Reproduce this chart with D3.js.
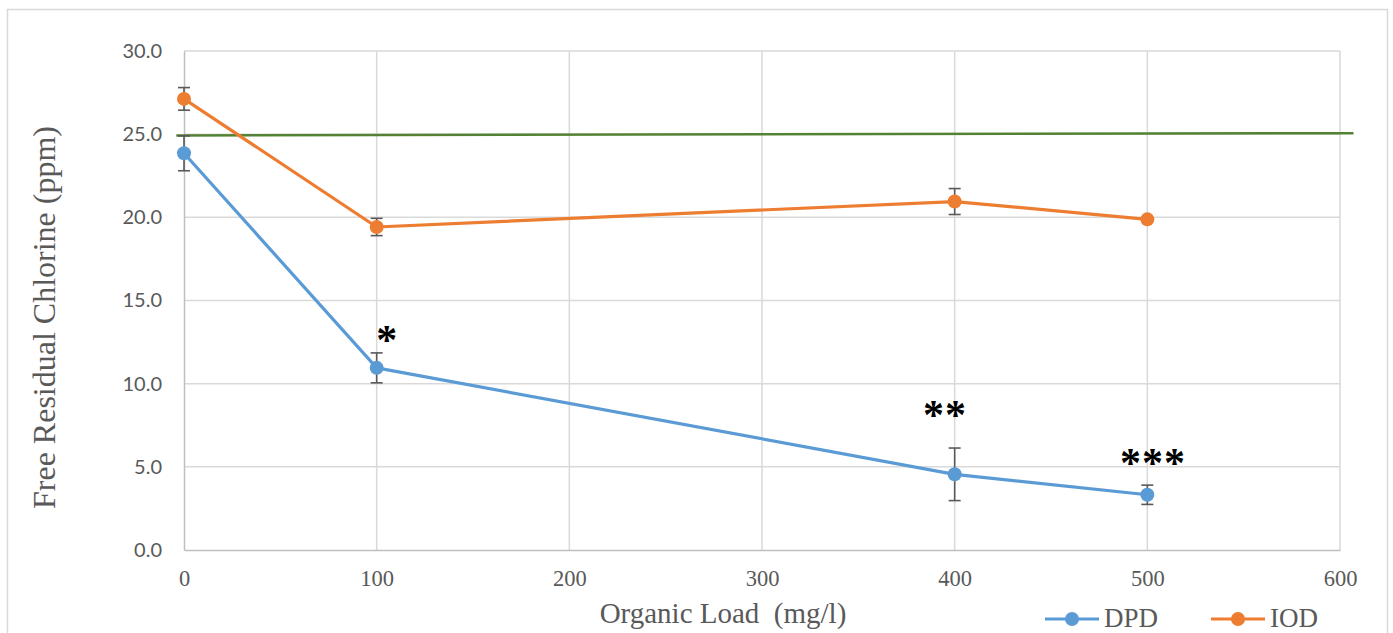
<!DOCTYPE html>
<html><head><meta charset="utf-8">
<script src="https://cdn.jsdelivr.net/npm/d3@7"></script>
<style>body{margin:0;background:#fff;} svg{display:block;}</style>
</head><body>
<script>
const loads = [0, 100, 400, 500];
const dpd = [23.85, 10.95, 4.55, 3.32];
const dpdErr = [1.05, 0.9, 1.58, 0.58];
const iod = [27.12, 19.42, 20.95, 19.88];
const iodErr = [0.68, 0.52, 0.78, 0];
const refX = [-4, 607];
const refY = [24.92, 25.06];
const xTicks = [0, 100, 200, 300, 400, 500, 600];
const yTicks = [0, 5, 10, 15, 20, 25, 30];
const stars = ["*", "**", "***"];
const starX = [105.5, 395, 503];
const starY = [13.1, 8.6, 5.7];
const seriesNames = ["DPD", "IOD"];
const colors = ["#5b9bd5", "#ed7d31"];

const W = 1393, H = 633;
const svg = d3.select("body").append("svg").attr("width", W).attr("height", H);
svg.append("rect").attr("x", 7.5).attr("y", 9.5).attr("width", 1380).attr("height", 640)
  .attr("fill", "#fff").attr("stroke", "#d9d9d9").attr("stroke-width", 1.5);

const x = d3.scaleLinear().domain([0, 600]).range([184, 1340]);
const y = d3.scaleLinear().domain([0, 30]).range([550, 51]);

// gridlines
const grid = svg.append("g");
grid.selectAll(".gy").data(yTicks.slice(1)).join("line")
  .attr("x1", x(0)).attr("x2", x(600)).attr("y1", d => y(d)).attr("y2", d => y(d))
  .attr("stroke", "#d9d9d9").attr("stroke-width", 1.5);
grid.selectAll(".gx").data(xTicks.slice(1)).join("line")
  .attr("x1", d => x(d)).attr("x2", d => x(d)).attr("y1", y(0)).attr("y2", y(30))
  .attr("stroke", "#d9d9d9").attr("stroke-width", 1.5);

// axes
const yAxis = d3.axisLeft(y).tickValues(yTicks).tickFormat(d3.format(".1f")).tickSize(0).tickPadding(22);
const gy = svg.append("g").attr("transform", `translate(${x(0)},0)`).call(yAxis);
gy.select(".domain").attr("stroke", "#bfbfbf").attr("stroke-width", 1.5);
gy.selectAll("text").attr("font-family", "Lato, sans-serif").attr("font-size", 20).attr("fill", "#595959");

const xAxis = d3.axisBottom(x).tickValues(xTicks).tickFormat(d3.format("d")).tickSize(0).tickPadding(20);
const gx = svg.append("g").attr("transform", `translate(0,${y(0)})`).call(xAxis);
gx.select(".domain").attr("stroke", "#bfbfbf").attr("stroke-width", 1.5);
gx.selectAll("text").attr("font-family", "Liberation Serif, serif").attr("font-size", 22.5).attr("fill", "#595959");

// reference line
svg.append("line").attr("x1", x(refX[0])).attr("x2", x(refX[1]))
  .attr("y1", y(refY[0])).attr("y2", y(refY[1]))
  .attr("stroke", "#548235").attr("stroke-width", 2.5);

// series
const series = [
  {vals: iod, err: iodErr, color: colors[1]},
  {vals: dpd, err: dpdErr, color: colors[0]}
];
const line = d3.line().x(d => x(d[0])).y(d => y(d[1]));
series.forEach(s => {
  const pts = loads.map((l, i) => [l, s.vals[i], s.err[i]]);
  svg.append("path").datum(pts).attr("d", line).attr("fill", "none")
    .attr("stroke", s.color).attr("stroke-width", 3.2).attr("stroke-linejoin", "round");
  const eb = svg.append("g").attr("stroke", "#595959").attr("stroke-width", 1.6);
  pts.filter(p => p[2] > 0).forEach(p => {
    eb.append("line").attr("x1", x(p[0])).attr("x2", x(p[0])).attr("y1", y(p[1] - p[2])).attr("y2", y(p[1] + p[2]));
    [p[1] - p[2], p[1] + p[2]].forEach(v => {
      eb.append("line").attr("x1", x(p[0]) - 6).attr("x2", x(p[0]) + 6).attr("y1", y(v)).attr("y2", y(v));
    });
  });
  svg.append("g").selectAll("circle").data(pts).join("circle")
    .attr("cx", d => x(d[0])).attr("cy", d => y(d[1])).attr("r", 7).attr("fill", s.color);
});

// significance stars
svg.append("g").selectAll("text").data(stars).join("text")
  .attr("x", (d, i) => x(starX[i])).attr("y", (d, i) => y(starY[i]))
  .attr("dy", "0.52em")
  .attr("text-anchor", "middle").attr("font-family", "Liberation Serif, serif")
  .attr("font-size", 42).attr("font-weight", "bold").attr("fill", "#000")
  .attr("letter-spacing", 1)
  .text(d => d);

// axis titles
svg.append("text").attr("transform", `translate(55,${(y(0) + y(30)) / 2 + 17}) rotate(-90)`)
  .attr("text-anchor", "middle").attr("font-family", "Liberation Serif, serif")
  .attr("font-size", 32).attr("fill", "#595959").text("Free Residual Chlorine (ppm)");
svg.append("text").attr("x", 723).attr("y", 623)
  .attr("text-anchor", "middle").attr("font-family", "Liberation Serif, serif")
  .attr("font-size", 29).attr("fill", "#595959")
  .style("white-space", "pre").text("Organic Load  (mg/l)");

// legend
const legX = [1045, 1211];
seriesNames.forEach((n, i) => {
  const g = svg.append("g").attr("transform", `translate(${legX[i]},619)`);
  g.append("line").attr("x1", 0).attr("x2", 54).attr("stroke", colors[i]).attr("stroke-width", 3.2);
  g.append("circle").attr("cx", 27).attr("r", 7).attr("fill", colors[i]);
  g.append("text").attr("x", 59).attr("y", 8).attr("font-family", "Liberation Serif, serif")
    .attr("font-size", 27).attr("fill", "#595959").text(n);
});
</script>
</body></html>
